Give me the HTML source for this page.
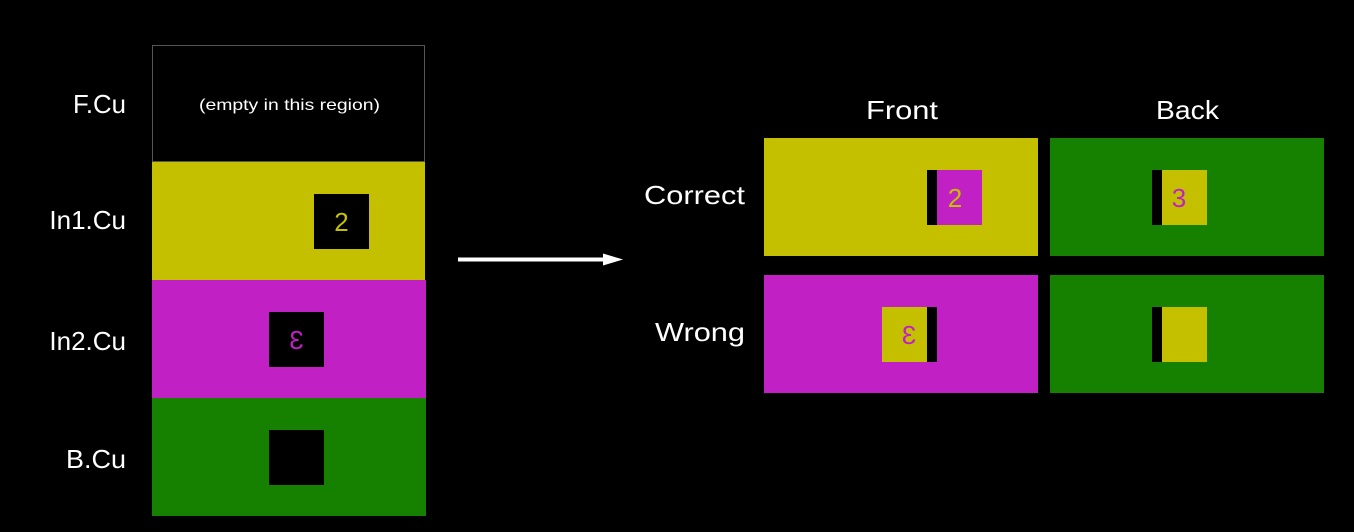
<!DOCTYPE html>
<html><head><meta charset="utf-8"><style>
html,body{margin:0;padding:0;background:#000;width:1354px;height:532px;overflow:hidden}
svg{display:block}
text{font-family:"Liberation Sans",sans-serif}
</style></head><body>
<svg width="1354" height="532" viewBox="0 0 1354 532">
<rect x="0" y="0" width="1354" height="532" fill="#000"/>
<g>
<rect x="152.5" y="45.5" width="272" height="116" fill="#000" stroke="#555" stroke-width="1"/>
<text x="199" y="110" font-size="16" fill="#fff" textLength="181" lengthAdjust="spacingAndGlyphs">(empty in this region)</text>
<rect x="152" y="162" width="273" height="118" fill="#c4c000"/>
<rect x="314" y="194" width="55" height="55" fill="#000"/>
<text x="341.5" y="231" font-size="26" fill="#c4c000" text-anchor="middle">2</text>
<rect x="152" y="280" width="274" height="118" fill="#c020c4"/>
<rect x="269" y="312" width="55" height="55" fill="#000"/>
<text transform="translate(296.5,349) scale(-1,1)" font-size="26" fill="#c020c4" text-anchor="middle">3</text>
<rect x="152" y="398" width="274" height="118" fill="#168000"/>
<rect x="269" y="430" width="55" height="55" fill="#000"/>
</g>
<g font-size="26" fill="#fff">
<text x="73" y="113" textLength="53" lengthAdjust="spacingAndGlyphs">F.Cu</text>
<text x="126" y="229" text-anchor="end">In1.Cu</text>
<text x="126" y="350" text-anchor="end">In2.Cu</text>
<text x="66" y="468" textLength="60" lengthAdjust="spacingAndGlyphs">B.Cu</text>
</g>
<g>
<rect x="458" y="257.5" width="148" height="4" fill="#fff"/>
<polygon points="603,253.5 623,259.5 603,265.5" fill="#fff"/>
</g>
<g font-size="26" fill="#fff">
<text x="866" y="119" textLength="72" lengthAdjust="spacingAndGlyphs">Front</text>
<text x="1156" y="119" textLength="63" lengthAdjust="spacingAndGlyphs">Back</text>
<text x="644" y="204" textLength="101" lengthAdjust="spacingAndGlyphs">Correct</text>
<text x="655" y="341" textLength="90" lengthAdjust="spacingAndGlyphs">Wrong</text>
</g>
<g>
<rect x="764" y="138" width="274" height="118" fill="#c4c000"/>
<rect x="927" y="170" width="10" height="55" fill="#000"/>
<rect x="937" y="170" width="45" height="55" fill="#c020c4"/>
<text x="955" y="207" font-size="26" fill="#c4c000" text-anchor="middle">2</text>
</g>
<g>
<rect x="1050" y="138" width="274" height="118" fill="#168000"/>
<rect x="1152" y="170" width="10" height="55" fill="#000"/>
<rect x="1162" y="170" width="45" height="55" fill="#c4c000"/>
<text x="1179" y="207" font-size="26" fill="#c020c4" text-anchor="middle">3</text>
</g>
<g>
<rect x="764" y="275" width="274" height="118" fill="#c020c4"/>
<rect x="882" y="307" width="45" height="55" fill="#c4c000"/>
<rect x="927" y="307" width="10" height="55" fill="#000"/>
<text transform="translate(909,344) scale(-1,1)" font-size="26" fill="#c020c4" text-anchor="middle">3</text>
</g>
<g>
<rect x="1050" y="275" width="274" height="118" fill="#168000"/>
<rect x="1152" y="307" width="10" height="55" fill="#000"/>
<rect x="1162" y="307" width="45" height="55" fill="#c4c000"/>
</g>
</svg>
</body></html>
